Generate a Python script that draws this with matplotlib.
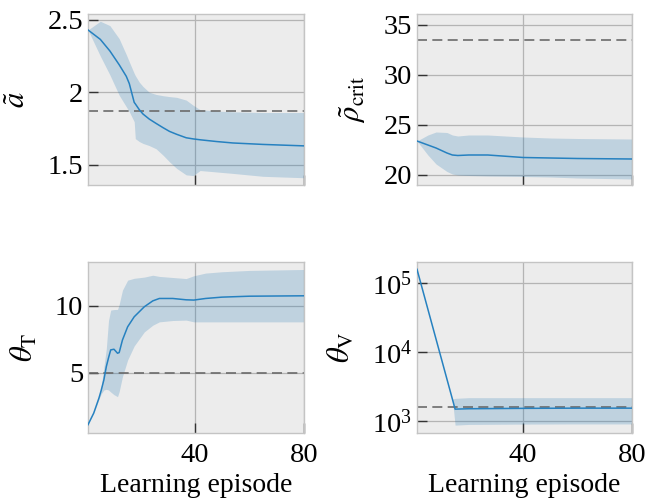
import matplotlib
matplotlib.use("Agg")
import matplotlib.pyplot as plt
from matplotlib.ticker import FixedLocator, FuncFormatter, LogFormatterMathtext, NullLocator

plt.rcParams['font.family'] = ['Liberation Serif', 'DejaVu Serif']
plt.rcParams['mathtext.fontset'] = 'stix'
plt.rcParams['axes.unicode_minus'] = False

# ---------------- data ----------------
# panel A: a-tilde
a_x = [1, 5.5, 9, 12.4, 15, 16.1, 17.9, 18.3, 19.75, 21.1, 23.4, 25.9, 28.5, 30.8,
       33.4, 36.9, 39.5, 42, 48, 54, 65, 80]
a_mean = [2.43, 2.365, 2.285, 2.19, 2.11, 2.06, 1.93, 1.92, 1.88, 1.85, 1.815, 1.785,
          1.755, 1.73, 1.71, 1.686, 1.678, 1.672, 1.66, 1.65, 1.64, 1.63]
a_upper = [2.43, 2.49, 2.46, 2.37, 2.26, 2.21, 2.13, 2.115, 2.07, 2.04, 2.0, 1.985,
           1.976, 1.97, 1.965, 1.946, 1.91, 1.88, 1.87, 1.865, 1.86, 1.86]
a_lower = [2.43, 2.25, 2.12, 1.98, 1.9, 1.866, 1.797, 1.68, 1.66, 1.647, 1.632, 1.61,
           1.565, 1.52, 1.475, 1.43, 1.425, 1.46, 1.45, 1.44, 1.42, 1.41]
a_ref = 1.87

# panel B: rho_crit tilde
r_x = [1, 5, 8, 12, 14, 16, 20, 27, 40, 50, 60, 80]
r_mean = [23.4, 23.0, 22.7, 22.2, 22.0, 21.95, 22.0, 22.0, 21.75, 21.7, 21.65, 21.6]
r_upper = [23.4, 24.0, 24.3, 24.25, 24.0, 23.9, 24.0, 24.0, 23.8, 23.7, 23.65, 23.6]
r_lower = [23.4, 22.0, 21.1, 20.35, 20.1, 20.0, 19.95, 19.9, 19.85, 19.8, 19.7, 19.6]
r_ref = 33.5

# panel C: theta_T
t_x = [1, 3.1, 5.0, 5.8, 6.8, 7.7, 8.5, 9.3, 10.5, 11.8, 12.4, 13.6, 15.5, 17.9,
       21.6, 24.7, 27.1, 32.0, 36.9, 39.7, 44, 50, 60, 80]
t_mean = [1.1, 1.97, 3.09, 3.65, 4.45, 5.45, 6.1, 6.7, 6.75, 6.45, 6.5, 7.44, 8.43,
          9.18, 9.93, 10.37, 10.55, 10.55, 10.45, 10.43, 10.55, 10.65, 10.72, 10.75]
t_upper = [1.1, 1.97, 3.15, 3.9, 5.4, 6.8, 8.9, 9.68, 9.72, 9.73, 10.1, 11.17, 11.92,
           12.06, 12.15, 12.29, 12.2, 12.12, 12.04, 12.25, 12.45, 12.55, 12.65, 12.72]
t_lower = [1.1, 1.97, 3.0, 3.4, 3.7, 3.75, 3.7, 3.55, 3.35, 3.2, 3.58, 4.7, 5.95,
           7.0, 8.05, 8.55, 8.8, 8.9, 8.93, 8.8, 8.8, 8.8, 8.8, 8.8]
t_ref = 5.0

# panel D: theta_V
v_x = [1, 14, 15, 20, 40, 60, 80]
v_mean = [1.6e5, 2100, 1500, 1520, 1540, 1550, 1550]
v_upper = [1.6e5, 2100, 2150, 2200, 2200, 2200, 2200]
v_lower = [1.6e5, 2100, 880, 900, 910, 915, 915]
v_ref = 1600

x_ticks = [40, 80]
a_ticks = [1.5, 2, 2.5]
r_ticks = [20, 25, 30, 35]
t_ticks = [5, 10]
v_ticks = [1e3, 1e4, 1e5]

xlabel = "Learning episode"
ylabels = [r'$\tilde{a}$', r'$\tilde{\rho}_{\mathrm{crit}}$',
           r'$\theta_{\mathrm{T}}$', r'$\theta_{\mathrm{V}}$']

# ---------------- style ----------------
LINE = '#2681c0'
BAND = '#1f77b4'
BG = '#ececec'
GRID = '#b4b4b4'
SPINE = '#c4c4c4'
REF = '#6b6b6b'
TICK_FS = 20.5
XLAB_FS = 20
YLAB_FS = 22

fig = plt.figure(figsize=(6.47, 5.01), dpi=100)
W, H = 647, 501
boxes = [(88, 14, 304, 185), (417, 14, 632, 185),
         (88, 262, 304, 433), (417, 262, 632, 433)]
axes = []
for (l, t, r, b) in boxes:
    ax = fig.add_axes([l / W, 1 - b / H, (r - l) / W, (b - t) / H])
    axes.append(ax)

panels = [
    (a_x, a_mean, a_upper, a_lower, a_ref, a_ticks, (1.36, 2.54), False),
    (r_x, r_mean, r_upper, r_lower, r_ref, r_ticks, (19.0, 36.1), False),
    (t_x, t_mean, t_upper, t_lower, t_ref, t_ticks, (0.48, 13.28), False),
    (v_x, v_mean, v_upper, v_lower, v_ref, v_ticks, (10 ** 2.83, 10 ** 5.31), True),
]

fmt = FuncFormatter(lambda v, p: ('%g' % v))

for i, (ax, (x, m, up, lo, ref, yt, yl, logy)) in enumerate(zip(axes, panels)):
    ax.set_facecolor(BG)
    if logy:
        ax.set_yscale('log')
    ax.fill_between(x, lo, up, color=BAND, alpha=0.22, linewidth=0, zorder=2)
    ax.plot(x, m, color=LINE, lw=1.1, zorder=3)
    ax.axhline(ref, color=REF, lw=1.2, dashes=(6, 3.2), zorder=2.5)
    ax.set_xlim(1, 80)
    ax.set_ylim(*yl)
    ax.xaxis.set_major_locator(FixedLocator(x_ticks))
    ax.yaxis.set_major_locator(FixedLocator(yt))
    ax.yaxis.set_minor_locator(NullLocator())
    if logy:
        ax.yaxis.set_major_formatter(LogFormatterMathtext())
    else:
        ax.yaxis.set_major_formatter(fmt)
    ax.grid(True, color=GRID, lw=0.9, zorder=1)
    ax.set_axisbelow(True)
    for s in ax.spines.values():
        s.set_color(SPINE)
        s.set_linewidth(1.0)
    ax.tick_params(axis='both', which='major', direction='in', length=7, width=1.0,
                   color='#333333', labelsize=TICK_FS, top=False, right=False)
    ax.tick_params(axis='y', pad=3.5)
    ax.tick_params(axis='x', pad=7)
    ax.set_ylabel(ylabels[i], fontsize=YLAB_FS, labelpad=11)
    if i < 2:
        ax.tick_params(axis='x', labelbottom=False)
    else:
        ax.set_xlabel(xlabel, fontsize=XLAB_FS, labelpad=4)

fig.savefig('out.png', dpi=100)
